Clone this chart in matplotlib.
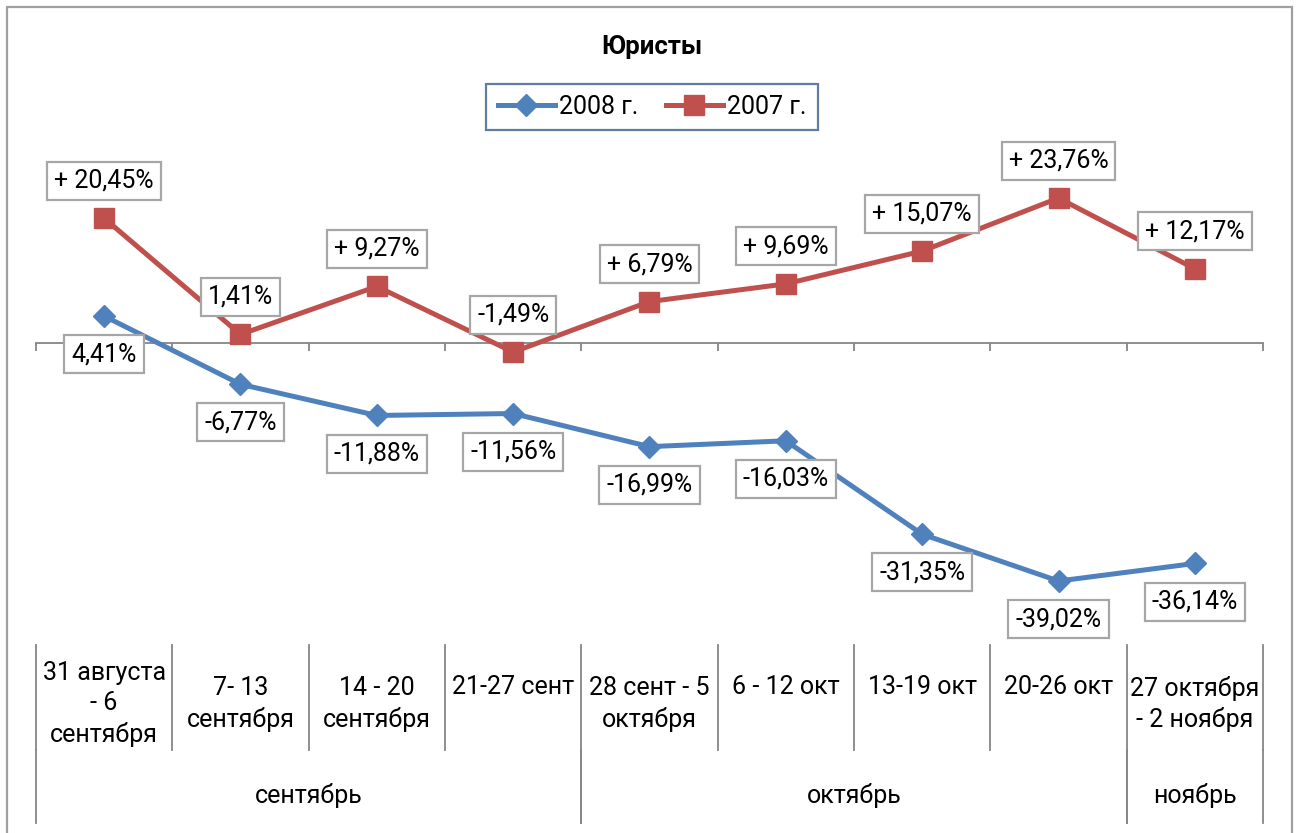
import matplotlib
matplotlib.use('Agg')
import matplotlib.pyplot as plt
from matplotlib.lines import Line2D
from matplotlib.patches import Rectangle

plt.rcParams['font.family'] = ['Roboto', 'DejaVu Sans']

# weeks (level 1) and months (level 2) of the category axis
weeks = ['31 августа\n- 6\nсентября', '7- 13\nсентября', '14 - 20\nсентября',
         '21-27 сент', '28 сент - 5\nоктября', '6 - 12 окт', '13-19 окт',
         '20-26 окт', '27 октября\n- 2 ноября']
months = ['сентябрь', 'октябрь', 'ноябрь']
month_spans = [(0, 3), (4, 7), (8, 8)]

vals_2008 = [4.41, -6.77, -11.88, -11.56, -16.99, -16.03, -31.35, -39.02, -36.14]
vals_2007 = [20.45, 1.41, 9.27, -1.49, 6.79, 9.69, 15.07, 23.76, 12.17]
labels_2008 = ['4,41%', '-6,77%', '-11,88%', '-11,56%', '-16,99%', '-16,03%',
               '-31,35%', '-39,02%', '-36,14%']
labels_2007 = ['+ 20,45%', '1,41%', '+ 9,27%', '-1,49%', '+ 6,79%', '+ 9,69%',
               '+ 15,07%', '+ 23,76%', '+ 12,17%']

W, H = 1299, 833
blue = '#4F81BD'
red = '#C0504D'
grey = '#868686'

fig = plt.figure(figsize=(W / 100, H / 100), dpi=100)

# plot area: x from 36 to 1263 px, zero line at 343 px, 6.1 px per percent
top_px, bot_px, zero_px, k = 150, 640, 343, 6.1
ax = fig.add_axes([36 / W, 1 - bot_px / H, (1263 - 36) / W, (bot_px - top_px) / H])
ax.set_xlim(-0.5, len(weeks) - 0.5)
ax.set_ylim(-(bot_px - zero_px) / k, (zero_px - top_px) / k)
ax.patch.set_visible(False)

for s in ['top', 'right', 'left']:
    ax.spines[s].set_visible(False)
ax.spines['bottom'].set_position(('data', 0))
ax.spines['bottom'].set_color(grey)
ax.spines['bottom'].set_linewidth(1.3)
ax.set_yticks([])
ax.set_xticks([i - 0.5 for i in range(len(weeks) + 1)])
ax.set_xticklabels([])
ax.tick_params(axis='x', direction='out', length=5.5, width=1.3, color=grey)

x = list(range(len(weeks)))
ax.plot(x, vals_2007, color=red, lw=3.6, marker='s', ms=14, clip_on=False, zorder=3)
ax.plot(x, vals_2008, color=blue, lw=3.6, marker='D', ms=11, clip_on=False, zorder=3)

box = dict(boxstyle='square,pad=0.28', fc='white', ec='#A6A6A6', lw=1.6)
for i in x:
    ax.annotate(labels_2007[i], (i, vals_2007[i]), xytext=(0, 27), textcoords='offset points',
                ha='center', va='center', fontsize=18, bbox=box, zorder=4)
    ax.annotate(labels_2008[i], (i, vals_2008[i]), xytext=(0, -27.5), textcoords='offset points',
                ha='center', va='center', fontsize=18, bbox=box, zorder=4)

# multi-level category labels below the plot
tr = matplotlib.transforms.blended_transform_factory(ax.transData, fig.transFigure)


def fy(px):
    return 1 - px / H


for i in range(len(weeks) + 1):
    ax.plot([i - 0.5, i - 0.5], [fy(645), fy(750)], color=grey, lw=1.3,
            transform=tr, clip_on=False)
for a, b in month_spans:
    for xb in (a - 0.5, b + 0.5):
        ax.plot([xb, xb], [fy(750), fy(823)], color=grey, lw=1.3,
                transform=tr, clip_on=False)

for i, w in enumerate(weeks):
    yc = 687 if '\n' not in w else 704
    ax.text(i, fy(yc), w, ha='center', va='center', fontsize=18,
            linespacing=1.32, transform=tr)
for m, (a, b) in zip(months, month_spans):
    ax.text((a + b) / 2, fy(795), m, ha='center', va='center', fontsize=18, transform=tr)

fig.text(652 / W, fy(47), 'Юристы', ha='center', va='center', fontsize=18.5, fontweight='bold')

handles = [Line2D([], [], color=blue, lw=3.6, marker='D', ms=11),
           Line2D([], [], color=red, lw=3.6, marker='s', ms=14)]
leg = fig.legend(handles, ['2008 г.', '2007 г.'], loc='center',
                 bbox_to_anchor=(652 / W, fy(107)), ncol=2, fontsize=18,
                 frameon=True, fancybox=False, borderpad=0.45, handlelength=2.3,
                 handletextpad=0.15, columnspacing=1.1)
leg.get_frame().set_edgecolor('#385D8A')
leg.get_frame().set_linewidth(1.6)

fig.patches.append(Rectangle((7 / W, -0.1), (1292 - 7) / W, 1.1 - 7 / H, transform=fig.transFigure,
                             fill=False, ec='#A0A0A0', lw=1.6))

fig.savefig('out.png', dpi=100)
